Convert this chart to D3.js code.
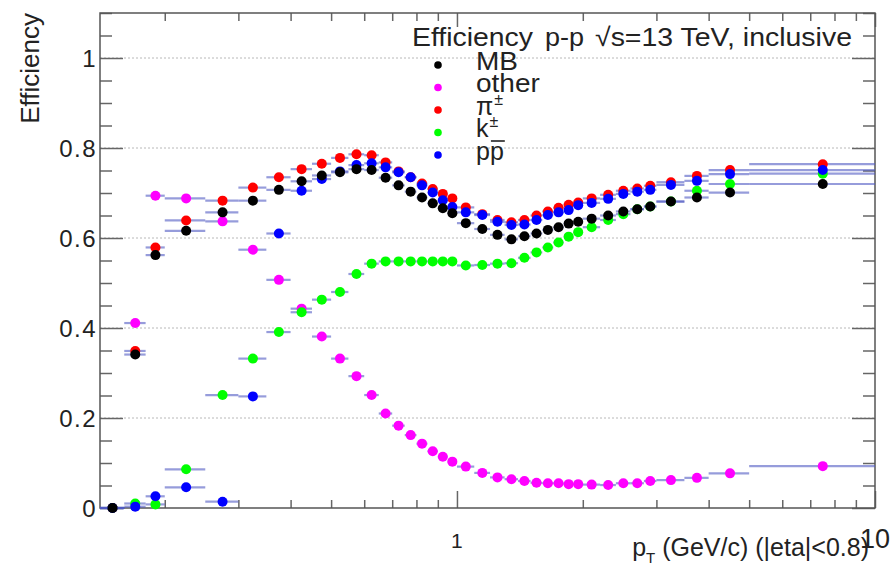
<!DOCTYPE html>
<html><head><meta charset="utf-8">
<script src="https://cdn.jsdelivr.net/npm/d3@7"></script>
<style>
body{margin:0;background:#fff}
svg{display:block;font-family:"Liberation Sans",Arial,Helvetica,sans-serif}
</style>
</head><body>
<svg id="chart" width="891" height="566"></svg>
<script>
// ---- data ----
const binEdges = [0.14,0.16,0.18,0.2,0.25,0.3,0.35,0.4,0.45,0.5,0.55,0.6,0.65,0.7,0.75,0.8,0.85,0.9,0.95,1.0,
  1.1,1.2,1.3,1.4,1.5,1.6,1.7,1.8,1.9,2.0,2.2,2.4,2.6,2.8,3.0,3.5,4.0,5.0,10.0];
const mbEff = [0.0,0.341,0.562,0.616,0.657,0.683,0.707,0.726,0.739,0.746,0.753,0.751,0.734,0.717,0.703,0.690,0.677,0.666,0.655,
  0.633,0.620,0.607,0.597,0.604,0.610,0.618,0.624,0.632,0.636,0.643,0.650,0.659,0.664,0.670,0.681,0.690,0.701,0.720];
const otherEff = [0.0,0.411,0.694,0.688,0.637,0.574,0.507,0.443,0.381,0.332,0.293,0.251,0.210,0.183,0.162,0.143,0.126,0.114,0.103,
  0.092,0.078,0.068,0.064,0.060,0.056,0.055,0.055,0.053,0.053,0.052,0.051,0.055,0.055,0.060,0.062,0.067,0.077,0.093];
const pionEff = [0.0,0.349,0.579,0.639,0.683,0.712,0.735,0.753,0.765,0.778,0.786,0.784,0.768,0.748,0.735,0.721,0.709,0.698,0.688,
  0.668,0.653,0.640,0.635,0.640,0.650,0.659,0.667,0.674,0.679,0.688,0.696,0.705,0.710,0.716,0.724,0.738,0.751,0.764];
const kaonEff = [0.0,0.010,0.008,0.086,0.251,0.332,0.391,0.435,0.463,0.480,0.520,0.543,0.548,0.548,0.548,0.548,0.548,0.548,0.548,
  0.539,0.540,0.543,0.544,0.556,0.568,0.579,0.590,0.603,0.613,0.624,0.640,0.653,0.664,0.670,0.681,0.705,0.720,0.743];
const protonEff = [0.0,0.003,0.026,0.046,0.014,0.248,0.610,0.705,0.731,0.748,0.762,0.766,0.757,0.746,0.735,0.717,0.701,0.684,0.669,
  0.657,0.651,0.636,0.629,0.630,0.640,0.651,0.657,0.662,0.673,0.678,0.687,0.698,0.703,0.707,0.718,0.727,0.742,0.751];
const yMajorTicks = [0,0.2,0.4,0.6,0.8,1.0];
const yTickLabels = ["0","0.2","0.4","0.6","0.8","1"];
const xMinorTicks = [0.2,0.3,0.4,0.5,0.6,0.7,0.8,0.9,2,3,4,5,6,7,8,9];
const xMajorTicks = [1,10];
const xTickLabels = ["1","10"];
const legendNames = ["MB","other","π","k","p"];

// ---- scales ----
const svg = d3.select("#chart");
const L=100, R=875, T=13, B=508;
const x = d3.scaleLog().domain([0.14,10]).range([L,R]);
const y = d3.scaleLinear().domain([0,1.1]).range([B,T]);

function stretch(sel, f){
  sel.each(function(){
    const w = this.getComputedTextLength();
    d3.select(this).attr("textLength", w*f).attr("lengthAdjust","spacingAndGlyphs");
  });
}

// grid
svg.append("g").selectAll("line").data(yMajorTicks.filter(d=>d>0)).join("line")
  .attr("x1",L).attr("x2",R).attr("y1",d=>y(d)).attr("y2",d=>y(d))
  .attr("stroke","#b8b8b8").attr("stroke-width",1).attr("stroke-dasharray","2,2");

// axes ticks
const yMinor = d3.range(0,1.101,0.05).map(v=>+v.toFixed(2)).filter(v=>!yMajorTicks.some(m=>Math.abs(m-v)<1e-6));
function clean(g){ g.select(".domain").remove(); g.selectAll("line").attr("stroke","#666").attr("stroke-width",1.5); }
svg.append("g").attr("transform",`translate(${L},0)`).call(d3.axisLeft(y).tickValues(yMinor).tickSize(-12).tickFormat("")).call(clean);
svg.append("g").attr("transform",`translate(${R},0)`).call(d3.axisRight(y).tickValues(yMinor).tickSize(-12).tickFormat("")).call(clean);
svg.append("g").attr("transform",`translate(${R},0)`).call(d3.axisRight(y).tickValues(yMajorTicks).tickSize(-23).tickFormat("")).call(clean);
const yAx = svg.append("g").attr("transform",`translate(${L},0)`)
  .call(d3.axisLeft(y).tickValues(yMajorTicks).tickSize(-23).tickPadding(3).tickFormat((d,i)=>yTickLabels[i])).call(clean);
yAx.selectAll("text").attr("font-size",24).attr("fill","#222").attr("letter-spacing","1.5px").attr("dy","0.35em");

svg.append("g").attr("transform",`translate(0,${B})`).call(d3.axisBottom(x).tickValues(xMinorTicks).tickSize(-8).tickFormat("")).call(clean);
svg.append("g").attr("transform",`translate(0,${B})`).call(d3.axisBottom(x).tickValues(xMajorTicks).tickSize(-17).tickFormat("")).call(clean);
svg.append("g").attr("transform",`translate(0,${T})`).call(d3.axisTop(x).tickValues(xMinorTicks).tickSize(-8).tickFormat("")).call(clean);
svg.append("g").attr("transform",`translate(0,${T})`).call(d3.axisTop(x).tickValues(xMajorTicks).tickSize(-14).tickFormat("")).call(clean);

// x tick labels
svg.append("g").selectAll("text").data(xMajorTicks).join("text")
  .attr("x",d=>x(d)).attr("y",548).attr("text-anchor","middle")
  .attr("font-size",(d,i)=>i===0?21:27).attr("fill","#222").text((d,i)=>xTickLabels[i]);

// frame
svg.append("rect").attr("x",L).attr("y",T).attr("width",R-L).attr("height",B-T)
  .attr("fill","none").attr("stroke","#555").attr("stroke-width",1.5);

// ---- series ----
const series = [
  {values: otherEff, color:"#ff00ff"},
  {values: pionEff, color:"#ff0000"},
  {values: kaonEff, color:"#00ff00"},
  {values: protonEff, color:"#0000ff"},
  {values: mbEff, color:"#000000"}
];
const plot = svg.append("g");
series.forEach(s=>{
  const pts = s.values.map((v,i)=>({v, lo:binEdges[i], hi:binEdges[i+1]}));
  const g = plot.append("g");
  g.selectAll("line").data(pts).join("line")
    .attr("x1",d=>x(d.lo)).attr("x2",d=>x(d.hi)).attr("y1",d=>y(d.v)).attr("y2",d=>y(d.v))
    .attr("stroke","rgb(80,90,195)").attr("stroke-opacity",0.6).attr("stroke-width",2.2);
  g.selectAll("circle").data(pts).join("circle")
    .attr("cx",d=>x((d.lo+d.hi)/2)).attr("cy",d=>y(d.v)).attr("r",5).attr("fill",s.color);
});

// ---- legend ----
const legColors = ["#000000","#ff00ff","#ff0000","#00ff00","#0000ff"];
const legY = [65,87.5,110,132.5,155];
const leg = svg.append("g");
leg.selectAll("circle").data(legColors).join("circle")
  .attr("cx",438).attr("cy",(d,i)=>legY[i]).attr("r",3.8).attr("fill",d=>d);
legendNames.forEach((n,i)=>{
  const t = leg.append("text").attr("x",476).attr("y",legY[i]+4.5).attr("font-size",25).attr("fill","#222");
  t.append("tspan").text(n);
  if(i===2||i===3){
    t.append("tspan").attr("dy",-10).attr("dx",1).attr("font-size",16).text("±");
  }
  if(i===4){
    t.append("tspan").text("p");
    const node = t.node();
    const s = node.getStartPositionOfChar(1).x, w = node.getSubStringLength(1,1);
    leg.append("line").attr("x1",s+1).attr("x2",s+w+1).attr("y1",legY[i]-14).attr("y2",legY[i]-14)
      .attr("stroke","#222").attr("stroke-width",1.6);
  }
  if(i<2) stretch(t, 1.12);
});

// ---- titles ----
const t1 = svg.append("text").attr("x",412).attr("y",46).attr("font-size",26).attr("fill","#222").text("Efficiency");
t1.attr("textLength",121).attr("lengthAdjust","spacingAndGlyphs");
svg.append("text").attr("x",545).attr("y",46).attr("font-size",26).attr("fill","#222")
  .attr("textLength",39).attr("lengthAdjust","spacingAndGlyphs").text("p-p");
svg.append("text").attr("x",595).attr("y",46).attr("font-size",26).attr("fill","#222")
  .attr("textLength",257).attr("lengthAdjust","spacingAndGlyphs").text("√s=13 TeV, inclusive");

svg.append("text").attr("transform","translate(39,13) rotate(-90)").attr("text-anchor","end")
  .attr("font-size",26).attr("fill","#222").text("Efficiency");

const xt = svg.append("text").attr("x",869).attr("y",556).attr("text-anchor","end").attr("font-size",25).attr("fill","#222");
xt.append("tspan").text("p");
xt.append("tspan").attr("dy",7).attr("font-size",15).text("T");
xt.append("tspan").attr("dy",-7).text(" (GeV/c) (|eta|<0.8)");
</script>
</body></html>
